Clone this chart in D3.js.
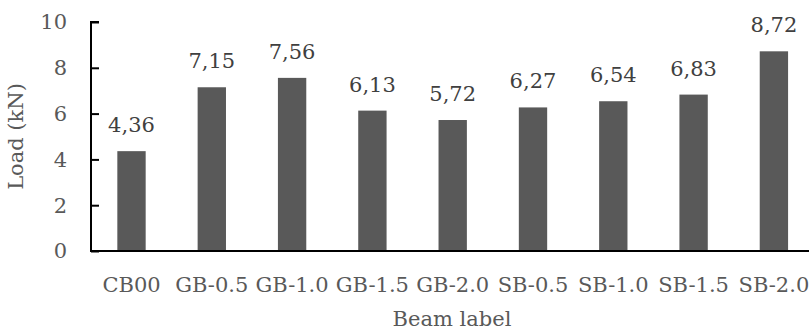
<!DOCTYPE html>
<html><head><meta charset="utf-8">
<script src="https://cdn.jsdelivr.net/npm/d3@7/dist/d3.min.js"></script>
<style>body{margin:0;background:#fff}svg{display:block}</style>
</head><body><svg id="c" width="809" height="332"></svg>
<script>
const categories = ["CB00","GB-0.5","GB-1.0","GB-1.5","GB-2.0","SB-0.5","SB-1.0","SB-1.5","SB-2.0"];
const values = [4.36,7.15,7.56,6.13,5.72,6.27,6.54,6.83,8.72];
const yTicks = [0,2,4,6,8,10];
const xTitle = "Beam label";
const yTitle = "Load (kN)";

(function(){
const svg = d3.select("#c");
const font = "'DejaVu Serif', serif";
const fs = 21;
const textColor = "#595959";
const mLeft = 91, mTop = 22, mBottom = 251;
const step = 80.3;
const x = d3.scaleBand().domain(categories).range([mLeft + 0.35, mLeft + 0.35 + step*categories.length]).paddingInner(0.647).paddingOuter(0.3235);
const y = d3.scaleLinear().domain([0,10]).range([mBottom, mTop]);

svg.selectAll("rect.bar").data(values).enter().append("rect")
  .attr("class","bar")
  .attr("x",(d,i)=>x(categories[i]))
  .attr("width",x.bandwidth())
  .attr("y",d=>y(d))
  .attr("height",d=>y(0)-y(d))
  .attr("fill","#595959");

svg.selectAll("text.val").data(values).enter().append("text")
  .attr("class","val")
  .attr("x",(d,i)=>x(categories[i])+x.bandwidth()/2)
  .attr("y",d=>y(d)-19)
  .attr("text-anchor","middle")
  .attr("font-family",font).attr("font-size",fs).attr("fill","#404040")
  .text(d=>d.toFixed(2).replace(".",","));

const yAxis = d3.axisRight(y).tickValues(yTicks).tickSize(8).tickFormat("");
const gy = svg.append("g").attr("transform",`translate(${mLeft},0)`).call(yAxis);
gy.select(".domain").attr("stroke","#000").attr("stroke-width",2).attr("d",`M8,${mTop}H0V${mBottom}`);
gy.selectAll(".tick line").attr("stroke","#000").attr("stroke-width",2);
svg.selectAll("text.yt").data(yTicks).enter().append("text")
  .attr("class","yt")
  .attr("x",67).attr("y",d=>y(d)).attr("dy","0.35em")
  .attr("text-anchor","end").attr("font-family",font).attr("font-size",fs).attr("fill",textColor)
  .text(d=>d);

const xAxis = d3.axisBottom(x).tickSize(0).tickFormat("");
const gx = svg.append("g").attr("transform",`translate(0,${mBottom})`).call(xAxis);
gx.select(".domain").attr("stroke","#000").attr("stroke-width",2).attr("d",`M${mLeft-1},0H809`);
svg.selectAll("text.xt").data(categories).enter().append("text")
  .attr("class","xt")
  .attr("x",d=>x(d)+x.bandwidth()/2).attr("y",292)
  .attr("text-anchor","middle").attr("font-family",font).attr("font-size",fs).attr("fill",textColor)
  .text(d=>d);

svg.append("text").attr("x",452).attr("y",326)
  .attr("text-anchor","middle").attr("font-family",font).attr("font-size",fs).attr("fill",textColor)
  .text(xTitle);
svg.append("text").attr("transform",`translate(23,${(mTop+mBottom)/2}) rotate(-90)`)
  .attr("text-anchor","middle").attr("font-family",font).attr("font-size",fs).attr("fill",textColor)
  .text(yTitle);
})();
</script></body></html>
